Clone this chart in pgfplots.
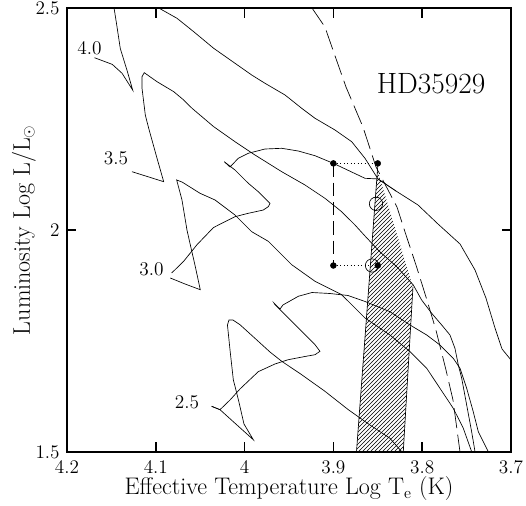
\documentclass[border=0pt]{standalone}
\usepackage{pgfplots}
\pgfplotsset{compat=1.18}
\usetikzlibrary{patterns}
\begin{document}
\begin{tikzpicture}
\useasboundingbox (-50.25pt,-40.5pt) rectangle (344.25pt,339pt);
\begin{axis}[at={(0,0)}, anchor=south west, scale only axis,
  width=333pt, height=333pt,
  x dir=reverse, xmin=3.7, xmax=4.2, ymin=1.5, ymax=2.5,
  xtick={3.7,3.8,3.9,4,4.1,4.2}, ytick={1.5,2,2.5},
  xtick pos=both, ytick pos=both,
  tick align=inside, major tick length=7pt,
  axis line style={line width=0.9pt},
  every tick/.style={black, line width=1.2pt},
  tick label style={font=\fontsize{14}{16}\selectfont},
  xticklabel style={yshift=-3pt},
  yticklabel style={xshift=-2pt},
  label style={font=\fontsize{18}{21}\selectfont},
  xlabel={Effective Temperature Log T$_\mathrm{e}$ (K)},
  ylabel={Luminosity Log L/L$_\odot$},
  xlabel style={at={(axis description cs:0.5,-0.083)}, anchor=center},
  ylabel style={at={(axis description cs:-0.097,0.5)}, anchor=center},
  trk/.style={black, line width=0.5pt, no markers},
  tk/.style={black, line width=1.3pt, no markers},
]
% instability strip
\addplot[draw=none, pattern=north east lines] coordinates {
  (3.8504,2.135) (3.8104,1.8716) (3.8213,1.5) (3.8740,1.5)} -- cycle;
\addplot[trk] coordinates {(3.8498,2.15) (3.8740,1.5)};
\addplot[trk] coordinates {(3.8104,1.8716) (3.8213,1.5)};

% 4.0
\addplot[trk] coordinates {
  (4.169,2.388) (4.149,2.373) (4.138,2.353) (4.126,2.315) (4.132,2.357)
  (4.140,2.409) (4.144,2.462) (4.147,2.5) (4.148,2.51)};
\addplot[trk] coordinates {
  (4.0967,2.5) (4.0761,2.4768) (4.0573,2.4466) (4.0348,2.4092) (4.0108,2.3755)
  (3.9920,2.3491) (3.9770,2.3304) (3.9545,2.3041) (3.9357,2.2741) (3.9207,2.2516)
  (3.8982,2.2252) (3.8794,2.1989) (3.8644,2.1615) (3.8498,2.115) (3.8295,2.0878)
  (3.8047,2.0563) (3.7822,2.0135) (3.7574,1.9685) (3.7405,1.9099) (3.7282,1.8468)
  (3.7180,1.7793) (3.7101,1.7320) (3.7,1.7072) (3.69,1.70)};

% 3.5
\addplot[trk] coordinates {
  (4.1268,2.1313) (4.0911,2.1088) (4.0986,2.1615) (4.1080,2.2291) (4.1118,2.2590)
  (4.1155,2.3191) (4.1155,2.3453) (4.1130,2.3543) (4.0986,2.3340) (4.0798,2.3115)
  (4.0686,2.2928) (4.0592,2.2741) (4.0348,2.2327) (4.0108,2.1989) (3.9883,2.1689)
  (3.9582,2.1313) (3.9320,2.1014) (3.9095,2.0714) (3.8907,2.0412) (3.8757,2.0113)
  (3.8644,1.9865) (3.8475,1.9505) (3.8289,1.9178) (3.8100,1.8761) (3.8006,1.8423)
  (3.7893,1.8124) (3.7780,1.7860) (3.7687,1.7635) (3.7631,1.7336) (3.7593,1.6959)
  (3.7555,1.6660) (3.7499,1.6059) (3.7443,1.5457) (3.7405,1.5007) (3.7403,1.49)};

% 3.0
\addplot[trk] coordinates {
  (4.0821,1.9032) (4.0686,1.9295) (4.0536,1.9669) (4.0350,2.0056) (4.0108,2.0300)
  (3.9958,2.0376) (3.9789,2.0450) (3.9733,2.0525) (3.9714,2.0601) (3.9846,2.0863)
  (3.9958,2.1052) (4.0108,2.1351) (4.0229,2.1538) (4.0164,2.1419) (4.0071,2.1615)
  (3.9958,2.1728) (3.9770,2.1824) (3.9582,2.1840) (3.9395,2.1779) (3.9207,2.1673)
  (3.9001,2.1502) (3.8644,2.1164) (3.8498,2.115) (3.8295,2.0878)};
\addplot[trk] coordinates {
  (4.0837,1.8919) (4.0671,1.8784) (4.0499,1.8655) (4.0559,1.9212) (4.0598,1.9550)
  (4.0649,2.0) (4.0705,2.0676) (4.0750,2.1014) (4.0765,2.1126) (4.0705,2.1081)
  (4.0502,2.0827) (4.0333,2.0676) (4.0108,2.0338) (3.9920,1.9962) (3.9733,1.9745)
  (3.9470,1.9219) (3.9207,1.8845) (3.8907,1.8543) (3.8644,1.8018) (3.8363,1.7635)
  (3.8137,1.7259) (3.7949,1.6885) (3.7800,1.6435) (3.7650,1.5984) (3.7537,1.5534)
  (3.7443,1.5007) (3.7440,1.49)};

% 2.5
\addplot[trk] coordinates {
  (4.0371,1.6029) (4.0277,1.5953) (4.0164,1.6171) (4.0052,1.6419) (3.9846,1.6809)
  (3.9658,1.6982) (3.9508,1.7079) (3.9320,1.7151) (3.9207,1.7191) (3.9151,1.7268)
  (3.9207,1.7417) (3.9432,1.7867) (3.9658,1.8318) (3.9669,1.8356) (3.9601,1.8221)
  (3.9568,1.8311) (3.9395,1.8507) (3.9241,1.8592) (3.9042,1.8570) (3.8836,1.8525)
  (3.8644,1.8390) (3.8363,1.8160) (3.8137,1.7860) (3.7949,1.7635) (3.7800,1.7410)
  (3.7650,1.7110) (3.7574,1.6885) (3.7499,1.6435) (3.7425,1.5908) (3.7368,1.5457)
  (3.7256,1.5007) (3.7254,1.49)};
\addplot[trk] coordinates {
  (4.0371,1.6029) (4.0277,1.5953) (4.0086,1.5608) (3.9902,1.5277) (4.0007,1.5631)
  (4.0069,1.6171) (4.0127,1.6628) (4.0164,1.7297) (4.0193,1.7860) (4.0176,1.7973)
  (4.0131,1.7973) (4.0052,1.7867) (3.9846,1.7493) (3.9714,1.7252) (3.9582,1.7043)
  (3.9357,1.6741) (3.9095,1.6367) (3.8832,1.5953) (3.8588,1.5608) (3.8363,1.5309)
  (3.8231,1.5007) (3.8230,1.49)};

% long dashed line
\addplot[black, line width=0.5pt, dash pattern=on 15pt off 5pt] coordinates {
  (3.9241,2.5) (3.9095,2.4572) (3.9005,2.4054) (3.8858,2.3221) (3.8667,2.2320)
  (3.8520,2.1419) (3.8284,2.0518) (3.8182,1.9887) (3.8070,1.9212) (3.7957,1.8491)
  (3.7845,1.7748) (3.7732,1.6847) (3.7653,1.6171) (3.7574,1.5)};

% HD35929 positions
\addplot[black, line width=0.6pt, dash pattern=on 10pt off 4.5pt] coordinates {(3.90,2.15) (3.90,1.92)};
\addplot[black, line width=0.6pt, dotted] coordinates {(3.90,2.15) (3.85,2.15)};
\addplot[black, line width=0.6pt, dotted] coordinates {(3.90,1.92) (3.85,1.92)};
\addplot[only marks, mark=*, mark size=2.2pt, black] coordinates {
  (3.90,2.15) (3.85,2.15) (3.90,1.92) (3.85,1.92)};
\addplot[only marks, mark=o, mark size=5pt, black, line width=0.5pt] coordinates {
  (3.852,2.059) (3.8565,1.92)};

% x tick marks, bottom and top
\addplot[tk] coordinates {(4.1,1.5) (4.1,1.522)};
\addplot[tk] coordinates {(4.0,1.5) (4.0,1.522)};
\addplot[tk] coordinates {(3.9,1.5) (3.9,1.522)};
\addplot[tk] coordinates {(3.8,1.5) (3.8,1.522)};
\addplot[tk] coordinates {(4.1,2.5) (4.1,2.478)};
\addplot[tk] coordinates {(4.0,2.5) (4.0,2.478)};
\addplot[tk] coordinates {(3.9,2.5) (3.9,2.478)};
\addplot[tk] coordinates {(3.8,2.5) (3.8,2.478)};

\node[font=\fontsize{22}{26}\selectfont] at (axis cs:3.790,2.329) {HD35929};
\node[font=\fontsize{14.5}{17}\selectfont] at (axis cs:4.1747,2.4099) {4.0};
\node[font=\fontsize{14.5}{17}\selectfont] at (axis cs:4.1448,2.1622) {3.5};
\node[font=\fontsize{14.5}{17}\selectfont] at (axis cs:4.1048,1.9122) {3.0};
\node[font=\fontsize{14.5}{17}\selectfont] at (axis cs:4.0649,1.6126) {2.5};
\end{axis}
\end{tikzpicture}
\end{document}
